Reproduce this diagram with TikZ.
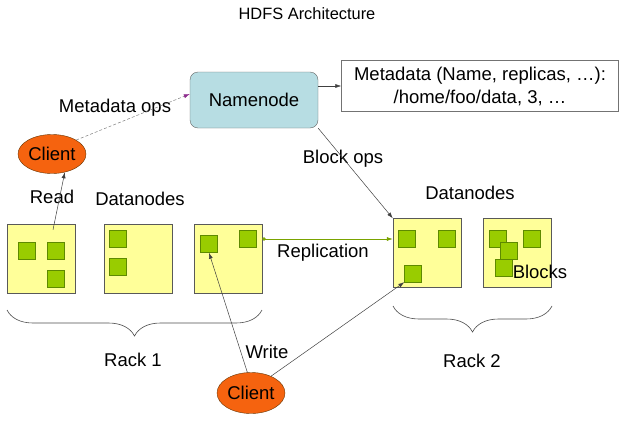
\documentclass[tikz,border=0pt]{standalone}
\usepackage{fontspec}
\setmainfont{Liberation Sans}
\usetikzlibrary{arrows.meta,decorations.pathreplacing,shapes.geometric}

\definecolor{nnblue}{HTML}{B7DDE3}
\definecolor{dnyellow}{HTML}{FFFF99}
\definecolor{blkgreen}{HTML}{99CC00}
\definecolor{blkedge}{HTML}{5E8A00}
\definecolor{clorange}{HTML}{F5630F}
\definecolor{tipviolet}{HTML}{8E2C8E}

\tikzset{
  dnode/.style={draw=black!65, fill=dnyellow, minimum width=68pt, minimum height=69pt, inner sep=0pt},
  blk/.style={draw=blkedge, fill=blkgreen, minimum size=17pt, inner sep=0pt},
  client/.style={ellipse, draw=orange!40!black, fill=clorange, minimum width=68pt, minimum height=39pt, inner sep=0pt},
  lbl/.style={inner sep=0pt},
  conn/.style={black!75, line width=0.5pt, -{Latex[length=6pt,width=4pt]}},
  rack/.style={black!70, line width=0.6pt, decorate, decoration={brace, mirror, amplitude=26pt}}
}

\begin{document}
\begin{tikzpicture}[x=1pt, y=-1pt, font=\fontsize{18.5}{22}\selectfont]
    \useasboundingbox (0,0) rectangle (629,423);

    \node[lbl, font=\fontsize{16.4}{20}\selectfont] (title) at (307,14) {HDFS Architecture};

    % namenode and metadata
    \node[draw=black!60, fill=nnblue, rounded corners=8pt, minimum width=128pt, minimum height=56pt] (nn) at (254,100) {Namenode};
    \node[draw=black!55, fill=white, minimum width=277pt, minimum height=51pt, align=center, inner sep=0pt] (meta) at (480,86)
        {Metadata (Name, replicas, \dots):\\[1pt]/home/foo/data, 3, \dots};
    \draw[conn] (meta.west -| nn.east) -- (meta.west);

    % clients
    \node[client] (c1) at (52,154) {Client};
    \node[client, minimum height=41pt] (c2) at (251,393) {Client};

    % datanodes
    \node[dnode] (d1) at (41,258.5) {};
    \node[dnode] (d2) at (138,258.5) {};
    \node[dnode] (d3) at (228,258.5) {};
    \node[dnode] (d4) at (427,253) {};
    \node[dnode] (d5) at (517.5,253) {};

    % blocks
    \foreach \name/\x/\y in {b1a/27/250.5, b1b/56/250.5, b1c/56/279,
                             b2a/118/239, b2b/118/267,
                             b3a/209/244, b3b/248/239,
                             b4a/407/239, b4b/447/239, b4c/413/273.5,
                             b5a/498/239, b5b/532/239, b5c/508.5/250.5, b5d/504/267.5}
      \node[blk] (\name) at (\x,\y) {};

    % labels
    \node[lbl] (lmeta) at (115,108) {Metadata ops};
    \node[lbl] (lread) at (52,197) {Read};
    \node[lbl] (ldn1) at (140,199) {Datanodes};
    \node[lbl] (lbops) at (343,159) {Block ops};
    \node[lbl] (ldn2) at (470,193) {Datanodes};
    \node[lbl] (lrep) at (323,253) {Replication};
    \node[lbl] (lblk) at (540,272) {Blocks};
    \node[lbl] (lwrite) at (267,352) {Write};

    % connectors
    \draw[black!50, dash pattern=on 3pt off 2pt, line width=0.5pt, -{Latex[length=6pt,width=4pt,color=tipviolet]}] (c1.north east) -- ([yshift=6pt]nn.west);
    \draw[conn] ([xshift=12pt,yshift=-6pt]d1.north) -- (c1.-55);
    \draw[conn] (nn.south east) -- (d4.north west);
    \draw[blkgreen!80!black, line width=0.6pt, {Circle[length=3.5pt]}-{Latex[length=6pt,width=4pt]}] (b3b.east -| d3.east) -- (b3b.east -| d4.west);
    \draw[conn] (c2.100) -- (b3a.south);
    \draw[conn] (c2.40) -- (b4c.south west);

    % racks
    \coordinate (r1a) at (7,310);
    \coordinate (r1b) at (262,310);
    \coordinate (r2a) at (393,306);
    \coordinate (r2b) at (552,306);
    \draw[rack] (r1a) -- (r1b);
    \draw[rack] (r2a) -- (r2b);
    \node[lbl] (lrack1) at (133,360) {Rack 1};
    \node[lbl] (lrack2) at (472,361) {Rack 2};

\end{tikzpicture}
\end{document}
